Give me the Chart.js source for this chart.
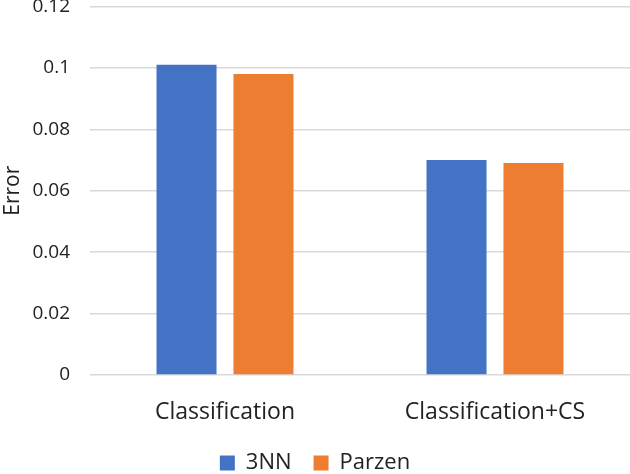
<!DOCTYPE html>
<html>
<head>
<meta charset="utf-8">
<script src="https://cdn.jsdelivr.net/npm/chart.js@4"></script>
<style>
  html, body { margin: 0; padding: 0; background: #fff; overflow: hidden; }
  #wrap { width: 630px; height: 509px; margin-top: -25px; }
</style>
</head>
<body>
<div id="wrap"><canvas id="chart"></canvas></div>
<script>
// Data
const categories = ['Classification', 'Classification+CS'];
const knnErrors = [0.101, 0.070];
const parzenErrors = [0.098, 0.069];
const yTicks = [0, 0.02, 0.04, 0.06, 0.08, 0.1, 0.12];

const FONT = "'Open Sans', 'Liberation Sans', sans-serif";

const ctx = document.getElementById('chart').getContext('2d');
new Chart(ctx, {
    type: 'bar',
    data: {
        labels: categories,
        datasets: [{
            label: '3NN',
            data: knnErrors,
            backgroundColor: '#4472C4'
        }, {
            label: 'Parzen',
            data: parzenErrors,
            backgroundColor: '#ED7D31'
        }]
    },
    options: {
        responsive: true,
        maintainAspectRatio: false,
        animation: false,
        categoryPercentage: 0.57,
        barPercentage: 0.78,
        layout: { padding: 0 },
        plugins: {
            tooltip: { enabled: false },
            legend: {
                position: 'bottom',
                labels: {
                    boxWidth: 15,
                    boxHeight: 15,
                    padding: 22,
                    color: '#222',
                    font: { family: FONT, size: 22 }
                }
            }
        },
        scales: {
            x: {
                grid: { display: false },
                border: { display: false },
                afterFit: (axis) => {
                    axis.height = 55;
                },
                ticks: {
                    color: '#222',
                    padding: 16,
                    font: { family: FONT, size: 23 }
                }
            },
            y: {
                min: 0,
                max: 0.12,
                afterBuildTicks: (axis) => {
                    axis.ticks = yTicks.map(v => ({ value: v }));
                },
                afterFit: (axis) => {
                    axis.width = 90;
                },
                grid: {
                    color: '#d9d9d9',
                    lineWidth: 1.5,
                    drawTicks: false
                },
                border: { display: false },
                ticks: {
                    color: '#222',
                    padding: 20,
                    font: { family: FONT, size: 19 },
                    callback: (v) => String(+v.toFixed(2))
                },
                title: {
                    display: true,
                    text: 'Error',
                    color: '#222',
                    padding: 0,
                    font: { family: FONT, size: 21 }
                }
            }
        }
    }
});
</script>
</body>
</html>
